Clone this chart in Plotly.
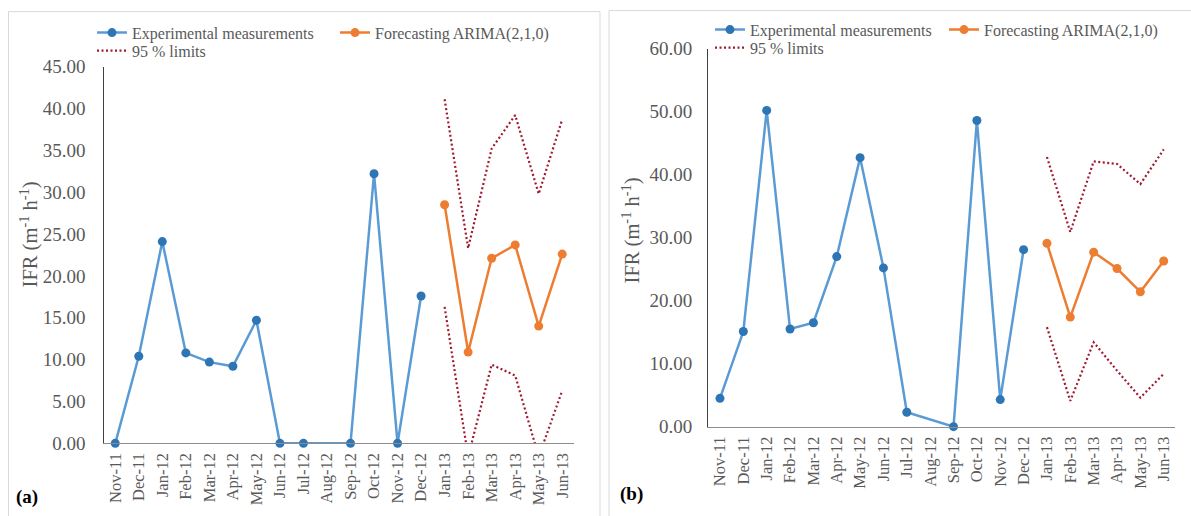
import plotly.graph_objects as go

W, H = 1191, 516

months = ["Nov-11", "Dec-11", "Jan-12", "Feb-12", "Mar-12", "Apr-12", "May-12",
          "Jun-12", "Jul-12", "Aug-12", "Sep-12", "Oct-12", "Nov-12", "Dec-12",
          "Jan-13", "Feb-13", "Mar-13", "Apr-13", "May-13", "Jun-13"]
obs_months = months[:14]
fc_months = months[14:]

# Panel (a)
exp_a = [0.0, 10.4, 24.1, 10.8, 9.7, 9.2, 14.7, 0.0, 0.0, None, 0.0, 32.2, 0.0, 17.6]
fc_a = [28.5, 10.9, 22.1, 23.7, 14.0, 22.6]
up_a = [41.1, 23.3, 35.2, 39.2, 29.8, 38.7]
lo_a = [16.3, -1.6, 9.4, 8.1, -1.6, 6.3]

# Panel (b)
exp_b = [4.5, 15.1, 50.2, 15.5, 16.5, 27.0, 42.7, 25.2, 2.3, None, 0.0, 48.6, 4.3, 28.1]
fc_b = [29.1, 17.4, 27.7, 25.1, 21.4, 26.3]
up_b = [42.8, 30.9, 42.1, 41.7, 38.5, 44.0]
lo_b = [15.8, 4.1, 13.4, 8.9, 4.6, 8.4]

BLUE_L = "#5B9BD5"
BLUE_M = "#2E75B6"
ORANGE = "#ED7D31"
RED = "#A0192E"
GRAY = "#595959"
FONT = "Liberation Serif, Times New Roman, serif"

fig = go.Figure()


def add_panel(xa, ya, exp, fc, up, lo, lg):
    fig.add_trace(go.Scatter(x=obs_months, y=exp, mode="lines+markers", connectgaps=True,
                             name="Experimental measurements", xaxis=xa, yaxis=ya,
                             line=dict(color=BLUE_L, width=2.5),
                             marker=dict(color=BLUE_M, size=9), cliponaxis=False,
                             legend=lg[0]))
    fig.add_trace(go.Scatter(x=fc_months, y=fc, mode="lines+markers",
                             name="Forecasting ARIMA(2,1,0)", xaxis=xa, yaxis=ya,
                             line=dict(color=ORANGE, width=2.5),
                             marker=dict(color=ORANGE, size=9), cliponaxis=False,
                             legend=lg[1]))
    fig.add_trace(go.Scatter(x=fc_months, y=up, mode="lines", name="95 % limits",
                             xaxis=xa, yaxis=ya,
                             line=dict(color=RED, width=2.2, dash="2px,2.5px"),
                             legend=lg[2]))
    fig.add_trace(go.Scatter(x=fc_months, y=lo, mode="lines", name="95 % limits",
                             xaxis=xa, yaxis=ya,
                             line=dict(color=RED, width=2.2, dash="2px,2.5px"),
                             showlegend=False, legend=lg[2]))


add_panel("x", "y", exp_a, fc_a, up_a, lo_a, ["legend", "legend2", "legend3"])
add_panel("x2", "y2", exp_b, fc_b, up_b, lo_b, ["legend4", "legend5", "legend6"])

# the captured picture maps figure y to screen y as  ys = 7.7 + 0.963 * yf
OFF, SC = 7.7, 0.963


def px(x):
    return x / W


def sy(y_screen):
    yf = (y_screen - OFF) / SC
    return 1 - yf / H


xcommon = dict(type="category", categoryorder="array", categoryarray=months,
               range=[-0.5, 19.5], showgrid=False, zeroline=False, showline=True,
               linecolor="#8C8C8C", linewidth=1.3, ticks="", tickangle=-90,
               tickfont=dict(family=FONT, size=16.5, color=GRAY), ticklabelstandoff=2,
               fixedrange=True)
ycommon = dict(showgrid=False, zeroline=False, showline=True, linecolor="#404040",
               linewidth=1.3, ticks="", tickformat=".2f",
               tickfont=dict(family=FONT, size=19, color=GRAY), fixedrange=True)

legcommon = dict(orientation="h", xanchor="left", yanchor="middle",
                 bgcolor="rgba(0,0,0,0)", font=dict(family=FONT, size=16, color=GRAY),
                 itemclick=False, itemdoubleclick=False)

fig.update_layout(
    width=W, height=H, autosize=False,
    margin=dict(l=0, r=0, t=0, b=0),
    paper_bgcolor="white", plot_bgcolor="white",
    font=dict(family=FONT, color=GRAY),
    xaxis=dict(domain=[px(103.5), px(574)], anchor="y", **xcommon),
    yaxis=dict(domain=[sy(442.7), sy(64.5)], anchor="x", range=[0, 45], dtick=5,
               ticklabelstandoff=13, **ycommon),
    xaxis2=dict(domain=[px(708.3), px(1175.4)], anchor="y2", **xcommon),
    yaxis2=dict(domain=[sy(426), sy(46.5)], anchor="x2", range=[0, 60], dtick=10,
                ticklabelstandoff=11, **ycommon),
    legend=dict(x=px(92), y=sy(30.5), **legcommon),
    legend2=dict(x=px(335), y=sy(30.5), **legcommon),
    legend3=dict(x=px(92), y=sy(48.5), **legcommon),
    legend4=dict(x=px(710), y=sy(27.5), **legcommon),
    legend5=dict(x=px(944), y=sy(27.5), **legcommon),
    legend6=dict(x=px(710), y=sy(45.5), **legcommon),
    showlegend=True,
)

# panel frames
fig.add_shape(type="rect", xref="paper", yref="paper", x0=px(8.5), x1=px(600),
              y0=-0.2, y1=sy(9.3), line=dict(color="#D9D9D9", width=1), layer="below")
fig.add_shape(type="rect", xref="paper", yref="paper", x0=px(609), x1=1.2,
              y0=-0.2, y1=1 - 0.6 / H, line=dict(color="#D9D9D9", width=1), layer="below")

# axis titles
title_txt = "IFR (m<sup>-1</sup> h<sup>-1</sup>)"
fig.add_annotation(text=title_txt, xref="paper", yref="paper", x=px(29), y=sy(233),
                   textangle=-90, showarrow=False, xanchor="center", yanchor="middle",
                   font=dict(family=FONT, size=20.5, color=GRAY))
fig.add_annotation(text=title_txt, xref="paper", yref="paper", x=px(631), y=sy(229),
                   textangle=-90, showarrow=False, xanchor="center", yanchor="middle",
                   font=dict(family=FONT, size=20.5, color=GRAY))

# panel labels
fig.add_annotation(text="<b>(a)</b>", xref="paper", yref="paper", x=px(27), y=1 - 508 / H,
                   showarrow=False, xanchor="center", yanchor="middle",
                   font=dict(family=FONT, size=19, color="black"))
fig.add_annotation(text="<b>(b)</b>", xref="paper", yref="paper", x=px(631), y=1 - 505 / H,
                   showarrow=False, xanchor="center", yanchor="middle",
                   font=dict(family=FONT, size=19, color="black"))

fig.write_html("out.html", config={"displayModeBar": False},
               post_script="document.body.style.margin='0';document.body.style.overflow='hidden';")
